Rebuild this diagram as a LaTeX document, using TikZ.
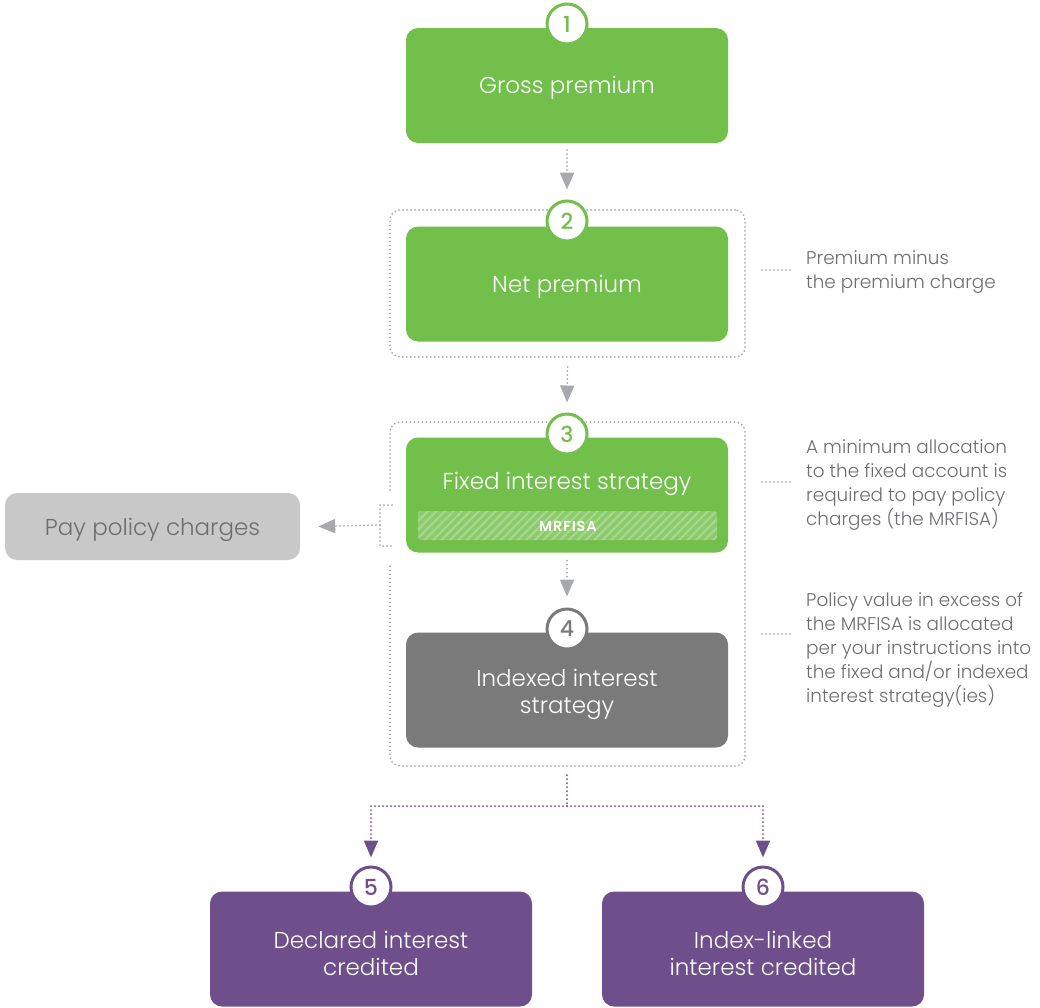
\documentclass[tikz,border=0pt]{standalone}
\usepackage{fontspec}
\setmainfont{Poppins Light}[BoldFont=Poppins Medium]
\newfontfamily\mrfont{Poppins SemiBold}[LetterSpace=6]
\usetikzlibrary{arrows.meta,patterns.meta,calc}
\definecolor{grn}{HTML}{72BF4B}
\definecolor{gry}{HTML}{7A7A7B}
\definecolor{pur}{HTML}{6F4E8C}
\definecolor{lgry}{HTML}{C8C8C8}
\definecolor{txtg}{HTML}{6D6E71}
\definecolor{dotc}{HTML}{A7A9AC}
\begin{document}
\begin{tikzpicture}[x=1pt,y=-1pt,
  box/.style={rounded corners=12pt, minimum width=322pt, minimum height=115pt, inner sep=0pt,
    text=white, font=\fontsize{23}{27}\selectfont, align=center, fill=#1},
  num/.style={circle, draw=#1, fill=white, line width=3pt, text=#1, minimum size=40pt,
    inner sep=0pt, font=\fontsize{22}{22}\selectfont\bfseries},
  dots/.style={draw=#1, line width=2pt, dash pattern=on 0pt off 4pt, line cap=round},
  dots/.default=dotc,
  arr/.style={dots=#1, -{Triangle[width=14pt,length=17pt,fill=#1,color=#1]}},
  arr/.default=dotc,
  note/.style={anchor=west, align=left, text=txtg, font=\fontsize{18.4}{24}\selectfont, inner sep=0pt},
  cont/.style={dots, rounded corners=10pt},
  lbl/.style={text=white, font=\fontsize{23}{27}\selectfont, align=center, inner sep=0pt}
]
\useasboundingbox (0,0) rectangle (1040,1007);

% containers
\node[cont, minimum width=355pt, minimum height=147pt, inner sep=0pt] (c2) at (567.5,283.5) {};
\coordinate (c3nw) at (390,422);
\coordinate (c3se) at (745,766);
\draw[cont] (390,490) -- (c3nw) -- (745,422) -- (c3se) -- (390,766) -- (390,563);
\coordinate (br) at (380,525);
\draw[dots] (392,505) -- (380,505) -- (380,546) -- (392,546);

% boxes
\node[box=grn] (b1) at (567,85.5) {};
\node[lbl] at (567,88) {Gross premium};
\node[num=grn] (n1) at (567,24) {1};
\node[box=grn] (b2) at (567,284) {};
\node[lbl] at (567,287) {Net premium};
\node[num=grn] (n2) at (567,221) {2};
\node[box=grn] (b3) at (567,495) {};
\node[lbl] (t3) at (567,484) {Fixed interest strategy};
\node[minimum width=299pt, minimum height=29pt, inner sep=0pt, rounded corners=3pt,
  preaction={fill=grn!82!white},
  pattern={Lines[angle=45,distance=6pt,line width=2.2pt]}, pattern color=grn!62!white] (mr) at (567.5,525.5) {};
\node[text=white, font=\fontsize{14.5}{14.5}\mrfont, inner sep=0pt] at (568,526.5) {MRFISA};
\node[num=grn] (n3) at (567,434) {3};
\node[box=gry] (b4) at (567,690) {};
\node[lbl] at (567,694) {Indexed interest\\strategy};
\node[num=gry] (n4) at (567,629) {4};
\node[box=pur] (b5) at (371,949) {};
\node[lbl] at (371,953) {Declared interest\\credited};
\node[num=pur] (n5) at (371,887) {5};
\node[box=pur] (b6) at (763,949) {};
\node[lbl] at (763,953) {Index-linked\\interest credited};
\node[num=pur] (n6) at (763,887) {6};
\node[rounded corners=12pt, fill=lgry, minimum width=295pt, minimum height=67pt, inner sep=0pt] (pay) at (152.5,526.5) {};
\node[lbl, text=txtg] at (152.5,530) {Pay policy charges};

% arrows
\draw[arr] (b1.south) ++(0,7) -- ($(n2.north)+(0,-10)$);
\draw[arr] (c2.south) ++(0,9) -- ($(n3.north)+(0,-10)$);
\draw[arr] (b3.south) ++(0,8) -- ($(n4.north)+(0,-11)$);
\draw[arr] (br) -- ($(pay.east)+(18,0)$);
\coordinate (split) at (567,806);
\draw[dots=pur] (567,775) -- (split);
\draw[arr=pur] (split) -| ($(n5.north)+(0,-8)$);
\draw[arr=pur] (split) -| ($(n6.north)+(0,-8)$);

% notes
\node[note] (m2) at (806,272) {Premium minus\\the premium charge};
\node[note] (m3) at (806,485) {A minimum allocation\\to the fixed account is\\required to pay policy\\charges (the MRFISA)};
\node[note] (m4) at (806,650) {Policy value in excess of\\the MRFISA is allocated\\per your instructions into\\the fixed and/or indexed\\interest strategy(ies)};
\draw[dots] (762,270) -- (791,270);
\draw[dots] (762,482) -- (791,482);
\draw[dots] (762,634) -- (791,634);
\end{tikzpicture}
\end{document}
